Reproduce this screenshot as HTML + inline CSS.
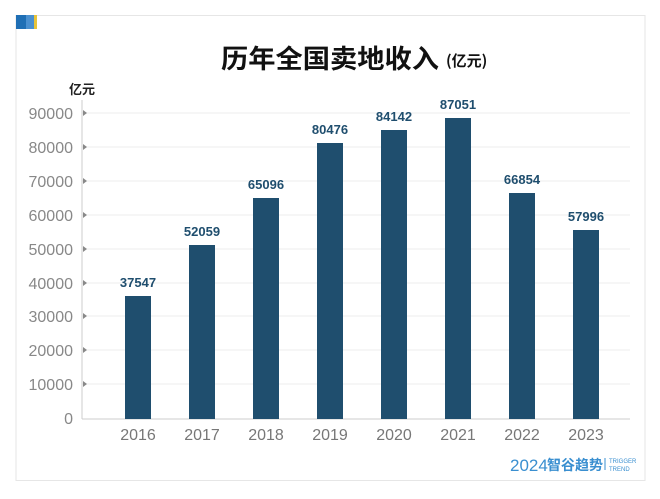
<!DOCTYPE html>
<html><head><meta charset="utf-8"><style>
body{margin:0;background:#fff;width:660px;height:494px;overflow:hidden}
</style></head><body>
<svg width="660" height="494" xmlns="http://www.w3.org/2000/svg" font-family="Liberation Sans, Noto Sans CJK SC, sans-serif">
<rect x="16" y="15.5" width="629" height="465" fill="#fff" stroke="#e6e6e6"/>
<rect x="16" y="15" width="10" height="14" fill="#1f6fb5"/>
<rect x="26" y="15" width="8" height="14" fill="#4a90d0"/>
<rect x="34" y="15" width="3" height="14" fill="#e8c43a"/>
<text x="221" y="68" font-size="26" font-weight="bold" fill="#111" textLength="218" lengthAdjust="spacingAndGlyphs" font-family="Noto Sans CJK SC, sans-serif">历年全国卖地收入</text>
<text x="446" y="66" font-size="15" font-weight="bold" fill="#111" font-family="Noto Sans CJK SC, sans-serif">(亿元)</text>
<text x="69" y="94" font-size="13" font-weight="bold" fill="#222" font-family="Noto Sans CJK SC, sans-serif">亿元</text>
<g stroke="#ececec" stroke-width="1">
<line x1="82" x2="630" y1="113" y2="113"/><line x1="82" x2="630" y1="147" y2="147"/><line x1="82" x2="630" y1="181" y2="181"/><line x1="82" x2="630" y1="215" y2="215"/><line x1="82" x2="630" y1="249" y2="249"/><line x1="82" x2="630" y1="283" y2="283"/><line x1="82" x2="630" y1="316" y2="316"/><line x1="82" x2="630" y1="350" y2="350"/><line x1="82" x2="630" y1="384" y2="384"/>
</g>
<line x1="82" x2="630" y1="419" y2="419" stroke="#ccc"/>
<line x1="82" x2="82" y1="100" y2="419" stroke="#ccc"/>
<g fill="#888" font-size="16" text-anchor="end">
<text x="73" y="119">90000</text><text x="73" y="153">80000</text><text x="73" y="187">70000</text><text x="73" y="221">60000</text><text x="73" y="255">50000</text><text x="73" y="289">40000</text><text x="73" y="322">30000</text><text x="73" y="356">20000</text><text x="73" y="390">10000</text><text x="73" y="424">0</text>
</g>
<g fill="#888"><path d="M83 110l4 3-4 3z"/><path d="M83 144l4 3-4 3z"/><path d="M83 178l4 3-4 3z"/><path d="M83 212l4 3-4 3z"/><path d="M83 246l4 3-4 3z"/><path d="M83 280l4 3-4 3z"/><path d="M83 313l4 3-4 3z"/><path d="M83 347l4 3-4 3z"/><path d="M83 381l4 3-4 3z"/></g>
<g fill="#1f4e6e">
<rect x="125" y="296" width="26" height="123"/>
<rect x="189" y="245" width="26" height="174"/>
<rect x="253" y="198" width="26" height="221"/>
<rect x="317" y="143" width="26" height="276"/>
<rect x="381" y="130" width="26" height="289"/>
<rect x="445" y="118" width="26" height="301"/>
<rect x="509" y="193" width="26" height="226"/>
<rect x="573" y="230" width="26" height="189"/>
</g>
<g fill="#1f4e6e" font-size="13" font-weight="bold" text-anchor="middle">
<text x="138" y="287">37547</text><text x="202" y="236">52059</text><text x="266" y="189">65096</text><text x="330" y="134">80476</text><text x="394" y="121">84142</text><text x="458" y="109">87051</text><text x="522" y="184">66854</text><text x="586" y="221">57996</text>
</g>
<g fill="#777" font-size="16" text-anchor="middle">
<text x="138" y="440">2016</text><text x="202" y="440">2017</text><text x="266" y="440">2018</text><text x="330" y="440">2019</text><text x="394" y="440">2020</text><text x="458" y="440">2021</text><text x="522" y="440">2022</text><text x="586" y="440">2023</text>
</g>
<text x="510" y="471" font-size="17" fill="#3a8fd0">2024</text>
<text x="547" y="470" font-size="14" font-weight="bold" fill="#3a8fd0" font-family="Noto Sans CJK SC, sans-serif">智谷趋势</text>
<line x1="605" x2="605" y1="458" y2="470" stroke="#3a8fd0"/>
<text x="609" y="463" font-size="6" fill="#3a8fd0">TRIGGER</text>
<text x="609" y="471" font-size="6" fill="#3a8fd0">TREND</text>
</svg>
</body></html>
